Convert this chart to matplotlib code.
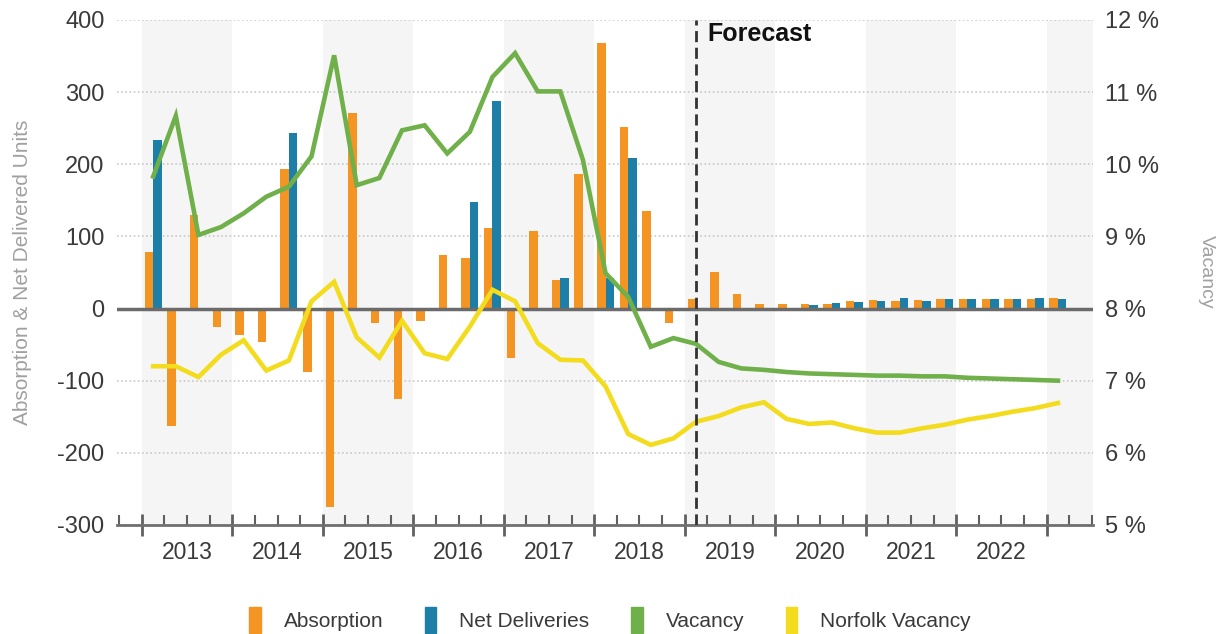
import matplotlib
matplotlib.use("Agg")
import matplotlib.pyplot as plt
from matplotlib.patches import Patch
from matplotlib.transforms import blended_transform_factory
import numpy as np

plt.rcParams['font.family'] = ['Liberation Sans', 'DejaVu Sans']
plt.rcParams['axes.unicode_minus'] = False

# quarterly data, 2013 Q1 .. 2023 Q1
years = ['2013', '2014', '2015', '2016', '2017', '2018', '2019', '2020', '2021', '2022']
absorption = [78, -163, 130, -25, -36, -46, 194, -88, -275, 271, -20, -125, -17, 74, 70, 111,
              -68, 107, 40, 186, 368, 251, 135, -20, 13, 50, 20, 6, 6,
              6, 6, 10, 12, 10, 12, 13, 13, 13, 13, 13, 15]
net_deliveries = [234, 0, 0, 0, 0, 0, 243, 0, 0, 0, 0, 0, 0, 0, 147, 288,
                  0, 0, 43, 0, 42, 208, 0, 0, 0, 0, 0, 0, 0,
                  5, 8, 9, 10, 14, 11, 13, 13, 13, 13, 15, 13]
vacancy = [9.83, 10.67, 9.02, 9.13, 9.32, 9.55, 9.69, 10.11, 11.51, 9.71, 9.81, 10.47, 10.54, 10.15, 10.45, 11.21,
           11.54, 11.01, 11.01, 10.06, 8.49, 8.16, 7.47, 7.59, 7.51, 7.26, 7.17, 7.15, 7.12,
           7.10, 7.09, 7.08, 7.07, 7.07, 7.06, 7.06, 7.04, 7.03, 7.02, 7.01, 7.00]
norfolk = [7.20, 7.20, 7.05, 7.36, 7.56, 7.14, 7.28, 8.10, 8.37, 7.60, 7.32, 7.83, 7.38, 7.30, 7.75, 8.26,
           8.10, 7.52, 7.29, 7.28, 6.92, 6.26, 6.11, 6.20, 6.43, 6.51, 6.63, 6.70, 6.47,
           6.40, 6.42, 6.34, 6.28, 6.28, 6.34, 6.39, 6.46, 6.51, 6.57, 6.62, 6.69]
forecast_start = 24  # 2019 Q1

c_orange = '#F39423'
c_blue = '#1D7FA8'
c_green = '#70B04A'
c_yellow = '#F3DB1E'
txt = '#3a3a3a'

x = np.arange(len(absorption))
w = 0.375

fig = plt.figure(figsize=(12.2, 6.34), dpi=100)
ax = fig.add_axes([0.0959, 0.172, 0.8, 0.7965])

# alternating year bands
for i in range(0, 12, 2):
    ax.axvspan(-0.5 + 4 * i, 3.5 + 4 * i, color='#f5f5f5', lw=0, zorder=0)

ax.set_xlim(-1.6, 41.55)
ax.set_ylim(-300, 400)
ax.set_yticks(range(-300, 401, 100))
ax.yaxis.grid(True, ls=(0, (1, 1.5)), color='#c8c8c8', lw=1.2, zorder=1)
ax.set_axisbelow(True)

ax.bar(x - w / 2, absorption, width=w, color=c_orange, zorder=2)
ax.bar(x + w / 2, net_deliveries, width=w, color=c_blue, zorder=2)
ax.axhline(0, color='#6b6b6b', lw=2.5, zorder=3)

for s in ['top', 'right', 'left']:
    ax.spines[s].set_visible(False)
ax.spines['bottom'].set_color('#707070')
ax.spines['bottom'].set_linewidth(2)

ax.set_xticks(np.arange(-0.5, 42, 4))
ax.set_xticks(np.arange(-1.5, 42, 1), minor=True)
ax.tick_params(axis='x', which='major', direction='inout', length=16, width=2,
               color='#606060', labelbottom=False)
ax.tick_params(axis='x', which='minor', direction='in', length=7, width=1.5, color='#606060')
ax.tick_params(axis='y', length=0, pad=9, labelsize=17, labelcolor=txt)

trans = blended_transform_factory(ax.transData, ax.transAxes)
for i, yr in enumerate(years):
    ax.text(1.5 + 4 * i, -0.055, yr, transform=trans, ha='center', va='center',
            fontsize=16.5, color=txt)

ax.set_ylabel('Absorption & Net Delivered Units', fontsize=15, color='#a0a0a0', labelpad=18)

ax2 = ax.twinx()
ax2.set_ylim(5, 12)
ax2.set_yticks(range(5, 13))
ax2.set_yticklabels([f'{v} %' for v in range(5, 13)])
ax2.tick_params(axis='y', length=0, pad=9, labelsize=17, labelcolor=txt)
for s in ax2.spines.values():
    s.set_visible(False)
ax2.plot(x, vacancy, color=c_green, lw=3.3, solid_joinstyle='miter', zorder=4)
ax2.plot(x, norfolk, color=c_yellow, lw=3.3, solid_joinstyle='miter', zorder=4)
fig.text(1206 / 1220, 1 - 272 / 634, 'Vacancy', fontsize=14, color='#a0a0a0',
         rotation=270, ha='center', va='center')

ax2.axvline(forecast_start, color='#333333', lw=2, ls=(0, (4, 2)), zorder=5)
ax2.text(forecast_start + 0.5, 11.8, 'Forecast', fontsize=18, fontweight='bold',
         color='#111111', ha='left', va='center')

handles = [Patch(color=c) for c in [c_orange, c_blue, c_green, c_yellow]]
labels = ['Absorption', 'Net Deliveries', 'Vacancy', 'Norfolk Vacancy']
leg = fig.legend(handles, labels, loc='center', bbox_to_anchor=(0.5, 0.022), ncol=4,
                 frameon=False, fontsize=15, handlelength=0.55, handleheight=1.5,
                 handletextpad=1.1, columnspacing=2.0)
for t in leg.get_texts():
    t.set_color(txt)

fig.savefig('out.png', dpi=100)
